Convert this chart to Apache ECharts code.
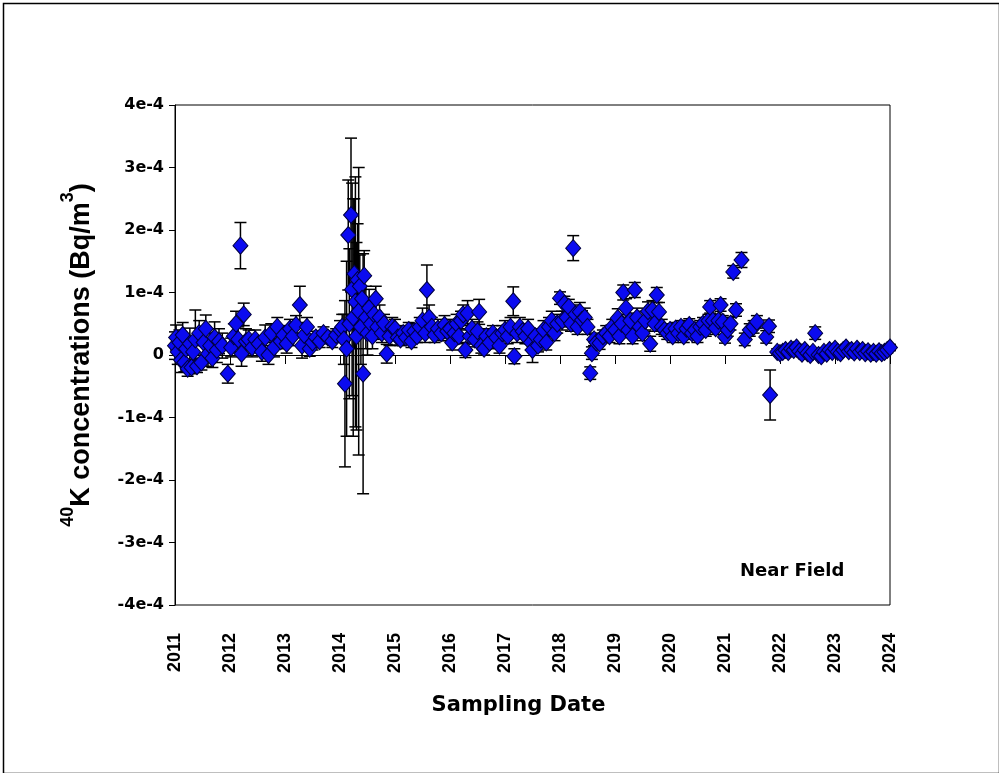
<!DOCTYPE html>
<html><head><meta charset="utf-8">
<script src="https://cdn.jsdelivr.net/npm/echarts@6/dist/echarts.min.js"></script>
<style>html,body{margin:0;padding:0;background:#fff}#c{width:999px;height:773px}</style>
</head><body><div id="c"></div>
<script>
// [sampling date (decimal year), 40K concentration (1e-4 Bq/m3), uncertainty (1e-4 Bq/m3)]
const data2011 = [
[2011.00,0.15,0.22],[2011.02,0.28,0.2],[2011.05,0.05,0.2],[2011.08,0.2,0.2],[2011.11,-0.08,0.2],
[2011.14,0.32,0.2],[2011.17,-0.12,0.15],[2011.20,0.1,0.2],[2011.23,-0.22,0.12],[2011.27,0.18,0.25],
[2011.30,-0.2,0.1],[2011.33,0.05,0.2],[2011.37,0.25,0.47],[2011.40,-0.18,0.1],[2011.44,0.35,0.2],
[2011.48,-0.12,0.12],[2011.52,0.2,0.25],[2011.56,0.42,0.22],[2011.60,0.02,0.2],[2011.64,0.15,0.2],
[2011.68,-0.05,0.15],[2011.72,0.28,0.25],[2011.76,0.08,0.2],[2011.80,0.22,0.2],[2011.86,0.15,0.2],
[2011.96,-0.3,0.15]
];
const data2012 = [
[2012.02,0.12,0.15],[2012.07,0.3,0.2],[2012.11,0.5,0.2],[2012.15,0.25,0.2],[2012.19,1.75,0.37],
[2012.21,0.02,0.2],[2012.25,0.65,0.18],[2012.29,0.22,0.2],[2012.34,0.25,0.15],[2012.40,0.12,0.15],
[2012.46,0.25,0.15],[2012.52,0.18,0.12],[2012.58,0.05,0.15],[2012.64,0.28,0.2],[2012.70,0.0,0.15],
[2012.75,0.35,0.15],[2012.80,0.12,0.15],[2012.86,0.45,0.15],[2012.92,0.22,0.12],[2012.97,0.32,0.15]
];
const data2013 = [
[2013.03,0.18,0.15],[2013.09,0.42,0.15],[2013.14,0.3,0.15],[2013.20,0.48,0.15],[2013.27,0.8,0.3],
[2013.31,0.15,0.2],[2013.35,0.32,0.2],[2013.40,0.45,0.15],[2013.45,0.1,0.12],[2013.50,0.2,0.12],
[2013.56,0.28,0.1],[2013.63,0.22,0.1],[2013.70,0.35,0.1],[2013.78,0.28,0.1],[2013.86,0.22,0.1],
[2013.93,0.32,0.1]
];
const data2014 = [
[2014.00,0.4,0.15],[2014.04,0.45,0.2],[2014.07,0.25,0.4],[2014.09,-0.46,1.33],[2014.12,0.1,1.4],
[2014.15,1.92,0.88],[2014.17,0.5,1.2],[2014.20,2.24,1.23],[2014.22,1.05,1.7],[2014.24,0.6,1.9],
[2014.26,1.3,1.2],[2014.28,0.85,2.0],[2014.30,0.3,1.5],[2014.32,1.2,0.9],[2014.34,0.7,2.3],
[2014.36,1.1,0.5],[2014.38,0.45,0.6],[2014.40,0.9,0.4],[2014.42,-0.3,1.92],[2014.44,1.27,0.4],
[2014.47,0.6,0.5],[2014.50,0.35,0.35],[2014.53,0.75,0.3],[2014.56,0.5,0.25],[2014.59,0.3,0.2],
[2014.62,0.65,0.2],[2014.65,0.9,0.2],[2014.68,0.45,0.2],[2014.72,0.6,0.2],[2014.76,0.35,0.15],
[2014.80,0.5,0.15],[2014.85,0.02,0.15],[2014.90,0.3,0.15],[2014.95,0.45,0.15]
];
const data2015 = [
[2015.00,0.42,0.15],[2015.05,0.28,0.12],[2015.10,0.25,0.1],[2015.15,0.35,0.12],[2015.20,0.28,0.1],
[2015.25,0.4,0.12],[2015.30,0.22,0.1],[2015.35,0.38,0.12],[2015.40,0.3,0.1],[2015.45,0.45,0.15],
[2015.50,0.55,0.2],[2015.55,0.35,0.15],[2015.58,1.04,0.4],[2015.62,0.6,0.2],[2015.67,0.45,0.15],
[2015.72,0.32,0.12],[2015.78,0.42,0.15],[2015.84,0.35,0.12],[2015.90,0.48,0.15],[2015.95,0.38,0.15]
];
const data2016 = [
[2016.00,0.42,0.15],[2016.04,0.2,0.12],[2016.08,0.35,0.15],[2016.12,0.5,0.15],[2016.16,0.3,0.12],
[2016.20,0.55,0.15],[2016.24,0.65,0.15],[2016.28,0.08,0.12],[2016.32,0.67,0.2],[2016.36,0.3,0.12],
[2016.40,0.42,0.15],[2016.45,0.25,0.12],[2016.50,0.38,0.15],[2016.53,0.69,0.2],[2016.57,0.15,0.12],
[2016.62,0.1,0.1],[2016.66,0.3,0.12],[2016.72,0.2,0.1],[2016.78,0.35,0.12],[2016.84,0.28,0.1],
[2016.90,0.15,0.12],[2016.95,0.35,0.12]
];
const data2017 = [
[2017.00,0.4,0.15],[2017.05,0.3,0.12],[2017.10,0.45,0.15],[2017.15,0.86,0.23],[2017.17,-0.02,0.12],
[2017.22,0.35,0.15],[2017.27,0.45,0.15],[2017.32,0.38,0.12],[2017.37,0.3,0.12],[2017.42,0.42,0.15],
[2017.47,0.2,0.12],[2017.50,0.08,0.2],[2017.55,0.3,0.12],[2017.60,0.15,0.1],[2017.65,0.25,0.12],
[2017.70,0.4,0.15],[2017.75,0.2,0.12],[2017.80,0.45,0.15],[2017.85,0.55,0.15],[2017.90,0.35,0.12],
[2017.95,0.5,0.15]
];
const data2018 = [
[2018.00,0.91,0.1],[2018.04,0.55,0.15],[2018.08,0.82,0.12],[2018.12,0.6,0.15],[2018.16,0.77,0.12],
[2018.20,0.5,0.12],[2018.24,1.71,0.2],[2018.28,0.65,0.15],[2018.32,0.45,0.12],[2018.36,0.69,0.15],
[2018.40,0.56,0.15],[2018.45,0.6,0.15],[2018.50,0.45,0.12],[2018.55,-0.29,0.1],[2018.58,0.03,0.1],
[2018.62,0.25,0.1],[2018.66,0.2,0.1],[2018.72,0.19,0.1],[2018.78,0.3,0.1],[2018.84,0.35,0.12],
[2018.90,0.3,0.1],[2018.95,0.45,0.12]
];
const data2019 = [
[2019.00,0.4,0.12],[2019.05,0.59,0.15],[2019.08,0.3,0.12],[2019.12,0.5,0.15],[2019.15,1.0,0.12],
[2019.20,0.75,0.15],[2019.24,0.4,0.12],[2019.28,0.55,0.12],[2019.32,0.3,0.12],[2019.36,1.04,0.12],
[2019.40,0.6,0.15],[2019.45,0.45,0.12],[2019.50,0.35,0.12],[2019.55,0.55,0.15],[2019.60,0.7,0.15],
[2019.64,0.18,0.12],[2019.68,0.72,0.15],[2019.72,0.5,0.12],[2019.76,0.96,0.12],[2019.80,0.69,0.15],
[2019.85,0.45,0.12],[2019.90,0.4,0.1],[2019.95,0.35,0.1]
];
const data2020 = [
[2020.00,0.4,0.1],[2020.05,0.3,0.1],[2020.10,0.42,0.1],[2020.15,0.35,0.1],[2020.20,0.45,0.1],
[2020.25,0.3,0.1],[2020.30,0.42,0.1],[2020.35,0.48,0.1],[2020.40,0.35,0.1],[2020.45,0.4,0.1],
[2020.50,0.3,0.1],[2020.55,0.45,0.1],[2020.60,0.5,0.1],[2020.65,0.4,0.1],[2020.70,0.55,0.1],
[2020.73,0.77,0.1],[2020.78,0.55,0.1],[2020.83,0.43,0.1],[2020.88,0.55,0.1],[2020.92,0.8,0.1],
[2020.96,0.53,0.1]
];
const data2021 = [
[2021.00,0.29,0.1],[2021.05,0.4,0.1],[2021.10,0.5,0.1],[2021.15,1.33,0.1],[2021.20,0.72,0.1],
[2021.30,1.52,0.12],[2021.36,0.25,0.1],[2021.45,0.4,0.1],[2021.52,0.45,0.1],[2021.58,0.53,0.1],
[2021.75,0.29,0.1],[2021.80,0.46,0.1],[2021.82,-0.64,0.4],[2021.95,0.05,0.05]
];
const data2022 = [
[2022.00,0.03,0.05],[2022.05,0.05,0.05],[2022.10,0.08,0.05],[2022.15,0.05,0.05],[2022.20,0.1,0.05],
[2022.25,0.08,0.05],[2022.30,0.12,0.05],[2022.35,0.06,0.05],[2022.40,0.02,0.05],[2022.45,0.08,0.05],
[2022.50,0.03,0.05],[2022.55,0.0,0.05],[2022.60,0.05,0.05],[2022.64,0.35,0.1],[2022.70,0.0,0.05],
[2022.75,-0.02,0.05],[2022.80,0.05,0.05],[2022.85,0.02,0.05],[2022.90,0.08,0.05],[2022.95,0.05,0.05]
];
const data2023 = [
[2023.00,0.1,0.05],[2023.05,0.05,0.05],[2023.10,0.03,0.05],[2023.15,0.08,0.05],[2023.20,0.12,0.05],
[2023.25,0.06,0.05],[2023.30,0.08,0.05],[2023.35,0.04,0.05],[2023.40,0.1,0.05],[2023.45,0.05,0.05],
[2023.50,0.08,0.05],[2023.55,0.03,0.05],[2023.60,0.06,0.05],[2023.65,0.02,0.05],[2023.70,0.05,0.05],
[2023.75,0.02,0.05],[2023.80,0.06,0.05],[2023.85,0.03,0.05],[2023.90,0.05,0.05],[2023.95,0.08,0.05],
[2024.00,0.12,0.05]
];
const yTickValues = [-4,-3,-2,-1,0,1,2,3,4];
const xTickYears = [2011,2012,2013,2014,2015,2016,2017,2018,2019,2020,2021,2022,2023,2024];

const allData = [].concat(data2011,data2012,data2013,data2014,data2015,data2016,data2017,
  data2018,data2019,data2020,data2021,data2022,data2023);

const ARIAL = '"Liberation Sans", Arial, sans-serif';
const WIDE = '"DejaVu Sans", Arial, sans-serif';
const chart = echarts.init(document.getElementById('c'), null, {renderer:'canvas'});
chart.setOption({
  backgroundColor:'#fff',
  animation:false,
  grid:{left:175,right:109,top:105,bottom:168,show:true,borderColor:'#000',borderWidth:1,backgroundColor:'transparent'},
  xAxis:{
    type:'value',min:xTickYears[0],max:xTickYears[xTickYears.length-1],interval:1,
    name:'Sampling Date',nameLocation:'middle',nameGap:90,
    nameTextStyle:{fontFamily:WIDE,fontWeight:'bold',fontSize:21,color:'#000',padding:[0,28,0,0]},
    axisLine:{show:true,lineStyle:{color:'#000',width:1}},
    axisTick:{show:true,inside:false,length:9,lineStyle:{color:'#000',width:1}},
    axisLabel:{rotate:90,margin:28,fontFamily:ARIAL,fontWeight:'bold',fontSize:18,color:'#000',
      formatter:v=>String(Math.round(v))},
    splitLine:{show:false}
  },
  yAxis:{
    type:'value',min:yTickValues[0],max:yTickValues[yTickValues.length-1],interval:1,
    name:'{sup|40}{b|K concentrations (Bq/m}{sup|3}{b|)}',nameLocation:'middle',nameGap:80,nameRotate:90,
    nameTextStyle:{fontFamily:ARIAL,fontWeight:'bold',fontSize:27,color:'#000',
      rich:{
        b:{fontFamily:ARIAL,fontWeight:'bold',fontSize:27,color:'#000',lineHeight:36,verticalAlign:'bottom'},
        sup:{fontFamily:ARIAL,fontWeight:'bold',fontSize:18,color:'#000',lineHeight:36,verticalAlign:'top'}
      }},
    axisLine:{show:true,lineStyle:{color:'#000',width:1}},
    axisTick:{show:true,inside:false,length:6,lineStyle:{color:'#000',width:1}},
    axisLabel:{margin:11,fontFamily:WIDE,fontWeight:'bold',fontSize:16,color:'#000',
      formatter:v=>v===0?'0':(v+'e-4')},
    splitLine:{show:false}
  },
  series:[
    {
      type:'custom',
      data:allData,
      z:2,
      encode:{x:0,y:1},
      renderItem:function(params,api){
        const x=api.value(0),y=api.value(1),e=api.value(2);
        const hi=api.coord([x,y+e]), lo=api.coord([x,y-e]);
        const hw=6;
        const st={stroke:'#000',lineWidth:1.5};
        return {type:'group',children:[
          {type:'line',shape:{x1:hi[0],y1:hi[1],x2:lo[0],y2:lo[1]},style:st},
          {type:'line',shape:{x1:hi[0]-hw,y1:hi[1],x2:hi[0]+hw,y2:hi[1]},style:st},
          {type:'line',shape:{x1:lo[0]-hw,y1:lo[1],x2:lo[0]+hw,y2:lo[1]},style:st}
        ]};
      }
    },
    {
      type:'scatter',
      data:allData.map(d=>[d[0],d[1]]),
      z:3,
      symbol:'diamond',
      symbolSize:[15,17],
      itemStyle:{color:'#0b0bf0',borderColor:'#000040',borderWidth:1,opacity:1}
    }
  ],
  graphic:[
    {type:'rect',left:1,top:1,shape:{width:996,height:770},style:{fill:'none',stroke:'#000',lineWidth:1.5},z:100},
    {type:'text',left:740,top:562,style:{text:'Near Field',font:'bold 18px '+WIDE,fill:'#000'}}
  ]
});
</script></body></html>
